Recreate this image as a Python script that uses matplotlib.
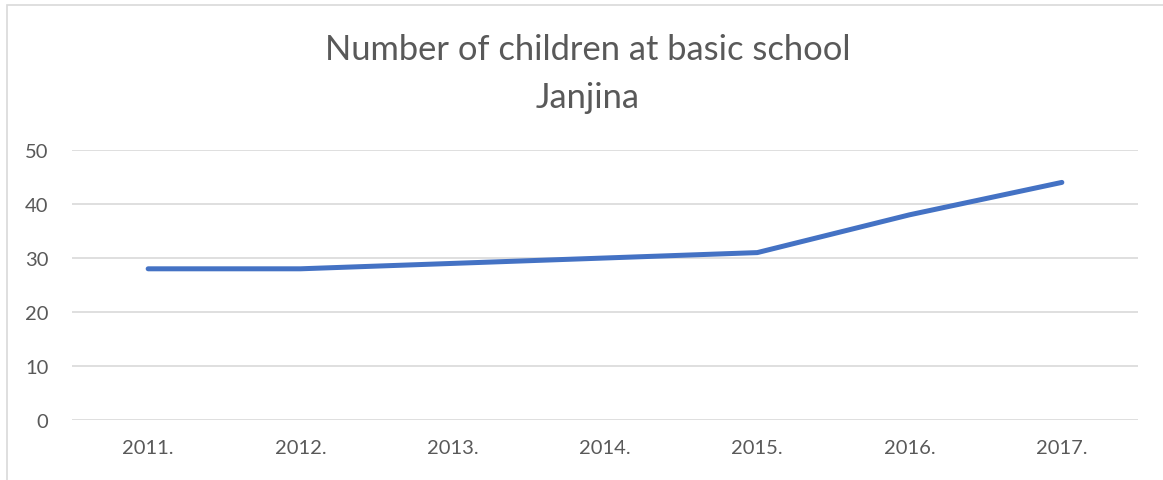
import matplotlib
matplotlib.use("Agg")
import matplotlib.pyplot as plt
from matplotlib.patches import Rectangle

# ----------------------------------------------------------------------------
# Data
# ----------------------------------------------------------------------------
YEARS = ["2011.", "2012.", "2013.", "2014.", "2015.", "2016.", "2017."]
CHILDREN = [28, 28, 29, 30, 31, 38, 44]
Y_TICKS = [0, 10, 20, 30, 40, 50]

TEXT = "#595959"
GRID = "#D9D9D9"
BLUE = "#4472C4"

plt.rcParams["font.family"] = ["Lato", "DejaVu Sans"]

fig = plt.figure(figsize=(11.63, 4.81), dpi=100)
# chart frame (extends past the cropped right/bottom edges)
fig.patches.append(Rectangle((7 / 1163, -0.1), 1.2, (481 - 6) / 481 + 0.1,
                             transform=fig.transFigure, fill=False,
                             edgecolor=GRID, linewidth=1.2))

ax = fig.add_axes([72 / 1163, 60 / 481, 1066 / 1163, 270 / 481])
x = range(len(YEARS))
ax.plot(x, CHILDREN, color=BLUE, lw=3.6, solid_capstyle="round",
        solid_joinstyle="round", zorder=3)

ax.set_xlim(-0.5, len(YEARS) - 0.5)
ax.set_ylim(0, 50)
ax.set_yticks(Y_TICKS)
ax.set_xticks(list(x))
ax.set_xticklabels(YEARS)
ax.grid(axis="y", color=GRID, lw=1.2)
ax.set_axisbelow(True)
for sp in ax.spines.values():
    sp.set_visible(False)
ax.tick_params(length=0, labelsize=14.5, labelcolor=TEXT)
ax.tick_params(axis="y", pad=17)
ax.tick_params(axis="x", pad=14)

fig.text(588 / 1163, 1 - 50 / 481, "Number of children at basic school",
         ha="center", va="center", fontsize=24.8, color=TEXT)
fig.text(588 / 1163, 1 - 98 / 481, "Janjina",
         ha="center", va="center", fontsize=24.8, color=TEXT)

fig.savefig("out.png", dpi=100)
